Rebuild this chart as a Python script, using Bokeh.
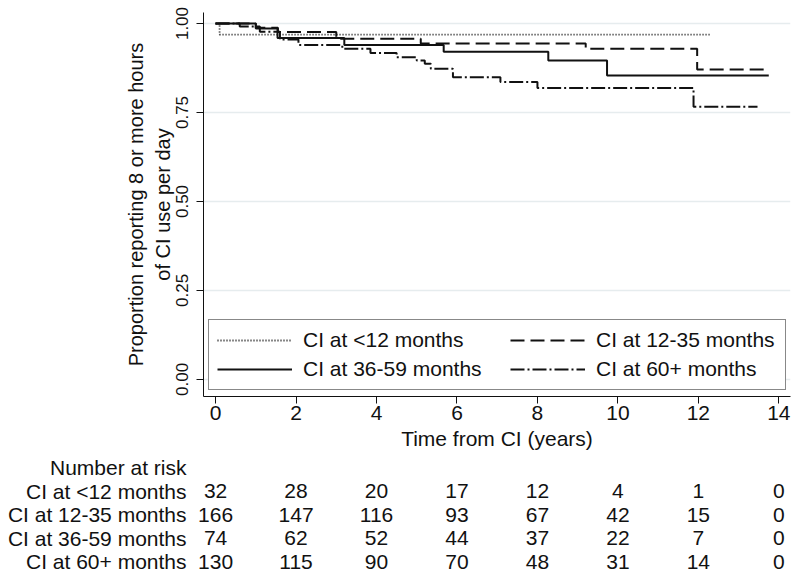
from bokeh.plotting import figure
from bokeh.models import Range1d, FixedTicker, Legend, LegendItem
from bokeh.embed import file_html
from bokeh.resources import INLINE

FONT = "Liberation Sans"

groups = ["CI at <12 months", "CI at 12-35 months", "CI at 36-59 months", "CI at 60+ months"]

# Kaplan-Meier step curves (time in years, proportion)
t_lt12 = [0, 0.1, 12.3]
s_lt12 = [1.0, 0.969, 0.969]

t_12_35 = [0, 1.0, 1.55, 3.0, 5.1, 9.2, 11.97, 13.7]
s_12_35 = [1.0, 0.988, 0.976, 0.957, 0.944, 0.929, 0.871, 0.871]

t_36_59 = [0, 1.0, 1.54, 3.2, 5.67, 8.27, 9.73, 13.75]
s_36_59 = [1.0, 0.986, 0.959, 0.940, 0.921, 0.896, 0.854, 0.854]

t_60p = [0, 0.6, 1.1, 1.6, 2.06, 3.15, 3.85, 4.5, 5.0, 5.2, 5.35, 5.9, 7.08, 8.0, 11.88, 13.47]
s_60p = [1.0, 0.992, 0.977, 0.955, 0.940, 0.929, 0.917, 0.905, 0.896, 0.887, 0.873, 0.849, 0.836, 0.819, 0.766, 0.766]

# Number at risk table
risk_times = [0, 2, 4, 6, 8, 10, 12, 14]
risk_lt12 = [32, 28, 20, 17, 12, 4, 1, 0]
risk_12_35 = [166, 147, 116, 93, 67, 42, 15, 0]
risk_36_59 = [74, 62, 52, 44, 37, 22, 7, 0]
risk_60p = [130, 115, 90, 70, 48, 31, 14, 0]
risk_title = "Number at risk"

x_ticks = [0, 2, 4, 6, 8, 10, 12, 14]
y_ticks = [0, 0.25, 0.5, 0.75, 1.0]
y_tick_labels = ["0.00", "0.25", "0.50", "0.75", "1.00"]

x_label = "Time from CI (years)"
y_label = "Proportion reporting 8 or more hours\nof CI use per day"

INK = "#111111"

# layout geometry (pixels)
W = 800
FRAME_L, FRAME_R = 203, 790
X0, X1 = -0.3, 14.29
PPU = (FRAME_R - FRAME_L) / (X1 - X0)

p = figure(width=W, height=456, output_backend="svg", toolbar_location=None,
           x_range=Range1d(X0, X1), y_range=Range1d(-0.048, 1.031),
           min_border_left=FRAME_L, min_border_right=W - FRAME_R,
           min_border_top=12, min_border_bottom=60)
p.outline_line_color = None
p.background_fill_color = "white"
p.xgrid.visible = False
p.ygrid.grid_line_color = "#e6ecee"
p.ygrid.grid_line_width = 1.5
p.ygrid.ticker = FixedTicker(ticks=y_ticks)

p.xaxis.ticker = FixedTicker(ticks=x_ticks)
p.yaxis.ticker = FixedTicker(ticks=y_ticks)
p.yaxis.major_label_overrides = {v: s for v, s in zip(y_ticks, y_tick_labels)}
p.yaxis.major_label_orientation = "vertical"

for ax in (p.xaxis[0], p.yaxis[0]):
    ax.axis_line_color = INK
    ax.axis_line_width = 1
    ax.major_tick_line_color = INK
    ax.major_tick_out = 7
    ax.major_tick_in = 0
    ax.minor_tick_line_color = None
    ax.major_label_text_font = FONT
    ax.major_label_text_color = INK
    ax.axis_label_text_font = FONT
    ax.axis_label_text_font_style = "normal"
    ax.axis_label_text_color = INK
    ax.axis_label_text_font_size = "20px"

p.xaxis.major_label_text_font_size = "21px"
p.xaxis.major_label_standoff = 2
p.xaxis.axis_label = x_label
p.xaxis.axis_label_text_font_size = "21px"
p.xaxis.axis_label_standoff = 4
p.yaxis.major_label_text_font_size = "17px"
p.yaxis.major_label_standoff = 8
p.yaxis.axis_label = y_label
p.yaxis.axis_label_standoff = 0

r1 = p.step(t_lt12, s_lt12, mode="after", line_color=INK, line_width=1.8, line_dash="1 2")
r2 = p.step(t_12_35, s_12_35, mode="after", line_color=INK, line_width=2, line_dash="14 6")
r3 = p.step(t_36_59, s_36_59, mode="after", line_color=INK, line_width=2)
r4 = p.step(t_60p, s_60p, mode="after", line_color=INK, line_width=2, line_dash="14 3 2 3")

legend_style = dict(orientation="vertical", padding=8, margin=0, spacing=5, label_standoff=11,
                    glyph_width=75, glyph_height=20, label_height=20,
                    label_text_font=FONT, label_text_font_size="21px", label_text_color=INK)
# first legend column carries the frame of the whole legend box
leg_a = Legend(items=[LegendItem(label=groups[0], renderers=[r1]),
                      LegendItem(label=groups[2], renderers=[r3])],
               location=(5, 6), label_width=474,
               border_line_color=INK, border_line_width=1,
               background_fill_color="white", background_fill_alpha=1.0, **legend_style)
# second legend column drawn inside the same box
leg_b = Legend(items=[LegendItem(label=groups[1], renderers=[r2]),
                      LegendItem(label=groups[3], renderers=[r4])],
               location=(307, 15), label_width=178,
               border_line_color=None, background_fill_alpha=0.0, **legend_style)
p.add_layout(leg_a, "center")
p.add_layout(leg_b, "center")

# Number-at-risk table, same horizontal scale as the plot; frame spans the full width
ROW0, PITCH = 467, 23.6
TOP, H_T = 456, 117
t = figure(width=W, height=H_T, output_backend="svg", toolbar_location=None,
           x_range=Range1d(X0 - FRAME_L / PPU, X1),
           y_range=Range1d((TOP + H_T - ROW0) / PITCH, (TOP - ROW0) / PITCH),
           x_axis_location=None, y_axis_location=None,
           min_border_left=0, min_border_right=W - FRAME_R,
           min_border_top=0, min_border_bottom=0)
t.outline_line_color = None
t.grid.visible = False

row_names = [risk_title] + groups
label_x = X0 - (FRAME_L - 186) / PPU
t.text(x=[label_x] * len(row_names), y=list(range(len(row_names))), text=row_names,
       text_align="right", text_baseline="middle", text_font_size="21px",
       text_color=INK, text_font={"value": FONT})

for i, row in enumerate([risk_lt12, risk_12_35, risk_36_59, risk_60p]):
    t.text(x=risk_times, y=[i + 1] * len(risk_times), text=[str(v) for v in row],
           text_align="center", text_baseline="middle", text_font_size="21px",
           text_color=INK, text_font={"value": FONT})

# two separate roots, stacked on the page (no frame alignment between them)
open("out.html", "w").write(file_html([p, t], INLINE))
